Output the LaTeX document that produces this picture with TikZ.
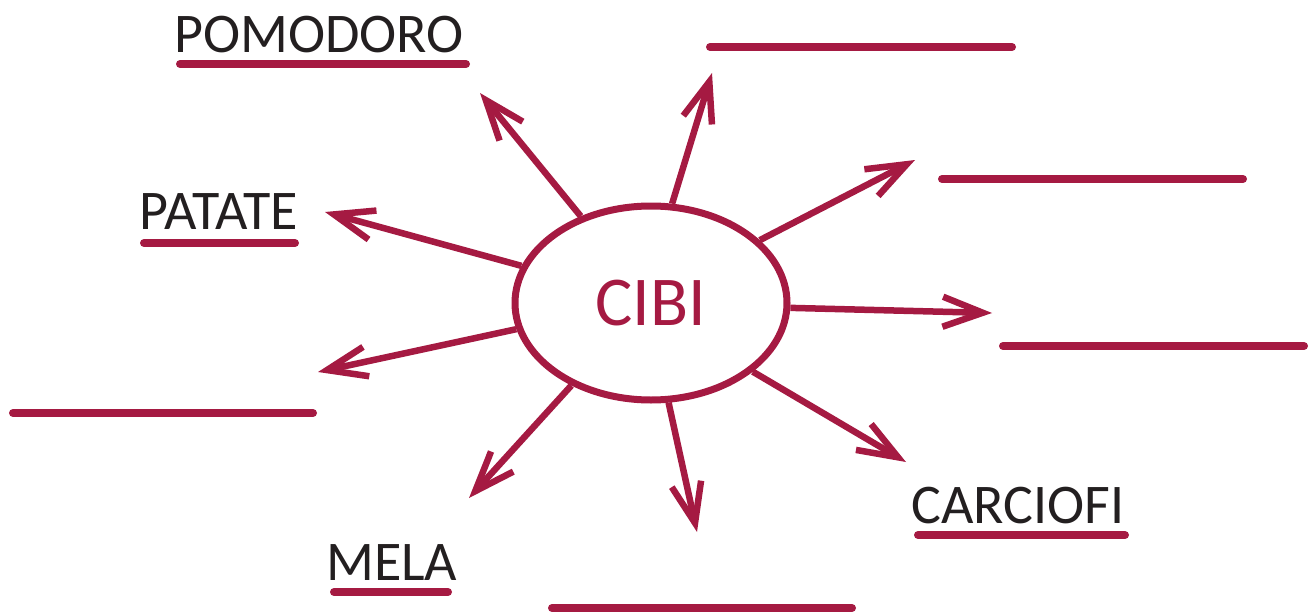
\documentclass[tikz,border=0pt]{standalone}
\usepackage{fontspec}
\setmainfont{Carlito}
\usetikzlibrary{arrows.meta,shapes.geometric}
\definecolor{cibired}{HTML}{A51A42}
\definecolor{wordgray}{HTML}{231F20}

\begin{document}
\begin{tikzpicture}[x=1pt,y=-1pt,
  ray/.style={draw=cibired,line width=6.5pt,-{Straight Barb[length=40pt,width=30pt]}},
  blank/.style={draw=cibired,line width=8pt,line cap=round},
  word/.style={anchor=base west,inner sep=0pt,text=wordgray,font=\fontsize{56}{56}\selectfont}]
\useasboundingbox (0,0) rectangle (1314,615);

\node[ellipse,draw=cibired,line width=7pt,inner sep=0pt,minimum width=272pt,minimum height=194pt,
  text=cibired,font=\fontsize{70}{70}\selectfont] (cibi) at (651,303) {CIBI};

% words
\node[word] (pomodoro) at (174,53) {POMODORO};
\node[word] (patate) at (139,229) {PATATE};
\node[word] (mela) at (326,580) {MELA};
\node[word] (carciofi) at (911,523) {CARCIOFI};

% lines under the words and empty lines
\foreach \xa/\xb/\yy in {180/466/64, 144/295/243, 334/448/592, 918/1125/535,
    710/1012/47, 942/1243/179, 1003/1304/346, 13/313/413, 552/852/608}
  \draw[blank] (\xa,\yy) -- (\xb,\yy);

% arrow tips
\coordinate (t-pomodoro) at (480,93);
\coordinate (t-top) at (712,73);
\coordinate (t-upright) at (915,160);
\coordinate (t-right) at (992,313);
\coordinate (t-carciofi) at (906,462);
\coordinate (t-bottom) at (697,532);
\coordinate (t-mela) at (469,498);
\coordinate (t-left) at (318,372);
\coordinate (t-patate) at (325,212);

\foreach \ang/\tip in {129/pomodoro, 78/top, 30/upright, -2/right, -34/carciofi,
    -80/bottom, 226/mela, 191/left, 164/patate}
  \draw[ray] (cibi.\ang) -- (t-\tip);
\end{tikzpicture}
\end{document}
